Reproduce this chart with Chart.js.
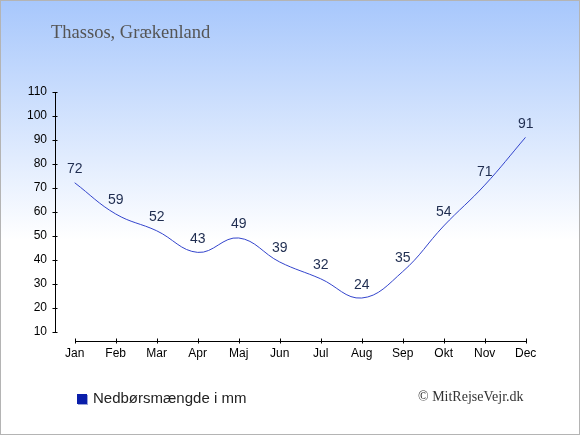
<!DOCTYPE html>
<html>
<head>
<meta charset="utf-8">
<script src="https://cdn.jsdelivr.net/npm/chart.js@4"></script>
<style>
html,body{margin:0;padding:0;}
body{width:580px;height:435px;overflow:hidden;}
#wrap{position:relative;width:580px;height:435px;background:linear-gradient(to bottom,#a7c7fc 0px,#ffffff 240px);}
#c{position:absolute;left:0;top:0;}
#frame{position:absolute;left:0;top:0;width:578px;height:433px;border:1px solid #b4b4b4;pointer-events:none;}
.t{position:absolute;white-space:nowrap;line-height:1;}
#title{left:51px;top:22.8px;font-family:"Liberation Serif",serif;font-size:18.5px;color:#555555;}
#leg{left:93px;top:390px;font-family:"Liberation Sans",Arial,sans-serif;font-size:15px;color:#222222;}
#sq{position:absolute;left:77px;top:394px;width:10px;height:10px;background:#0a1eaa;box-shadow:1px 1px 0 #9aa4d8;}
#copy{left:418px;top:390px;font-family:"Liberation Serif",serif;font-size:14px;color:#333333;}
</style>
</head>
<body>
<div id="wrap">
<canvas id="c" width="580" height="435"></canvas>
<div class="t" id="title">Thassos, Grækenland</div>
<div id="sq"></div>
<div class="t" id="leg">Nedbørsmængde i mm</div>
<div class="t" id="copy">© MitRejseVejr.dk</div>
<div id="frame"></div>
</div>
<script>
const months = ["Jan","Feb","Mar","Apr","Maj","Jun","Jul","Aug","Sep","Okt","Nov","Dec"];
const precipitation = [72,59,52,43,49,39,32,24,35,54,71,91];
const yTicks = [10,20,30,40,50,60,70,80,90,100,110];

const axisPlugin = {
  id:'axes',
  afterDraw(chart){
    const ctx = chart.ctx, xs = chart.scales.x, ys = chart.scales.y;
    const ax = Math.round(chart.chartArea.left)+0.5;
    const ay = Math.round(chart.chartArea.bottom)+0.5;
    ctx.save();
    ctx.strokeStyle = '#000';
    ctx.lineWidth = 1;
    ctx.beginPath();
    const yTop = Math.round(ys.getPixelForValue(yTicks[yTicks.length-1]))+0.5;
    const yBot = Math.round(ys.getPixelForValue(yTicks[0]))+0.5;
    ctx.moveTo(ax,yTop); ctx.lineTo(ax,yBot);
    yTicks.forEach(v=>{const p=Math.round(ys.getPixelForValue(v))+0.5; ctx.moveTo(ax-3,p); ctx.lineTo(ax+2,p);});
    const xL = Math.round(xs.getPixelForValue(0))+0.5;
    const xR = Math.round(xs.getPixelForValue(months.length-1))+0.5;
    ctx.moveTo(xL,ay); ctx.lineTo(xR,ay);
    months.forEach((m,i)=>{const p=Math.round(xs.getPixelForValue(i))+0.5; ctx.moveTo(p,ay-3); ctx.lineTo(p,ay+2);});
    ctx.stroke();
    ctx.restore();
  },
  afterDatasetsDraw(chart){
    const ctx = chart.ctx;
    const meta = chart.getDatasetMeta(0);
    ctx.save();
    ctx.font = '14px "Liberation Sans", Arial, sans-serif';
    ctx.fillStyle = '#1f2d50';
    ctx.textAlign = 'center';
    ctx.textBaseline = 'alphabetic';
    meta.data.forEach((pt,i)=>{ ctx.fillText(String(precipitation[i]), pt.x, pt.y-9.5); });
    ctx.restore();
  }
};

new Chart(document.getElementById('c'), {
  type:'line',
  data:{
    datasets:[{
      label:'Nedbørsmængde i mm',
      data: precipitation.map((v,i)=>({x:i,y:v})),
      borderColor:'#3344cc',
      borderWidth:1,
      pointRadius:0,
      tension:0.4,
      fill:false
    }]
  },
  options:{
    responsive:false,
    animation:false,
    devicePixelRatio:1,
    layout:{padding:{top:91.5,right:54.3,left:0,bottom:0}},
    plugins:{legend:{display:false},tooltip:{enabled:false},title:{display:false}},
    scales:{
      x:{
        type:'linear', min:-0.48, max:11, offset:false,
        grid:{display:false,drawTicks:false,tickLength:0}, border:{display:false},
        afterBuildTicks(s){ s.ticks = months.map((m,i)=>({value:i})); },
        afterFit(s){ s.height = 94; },
        ticks:{autoSkip:false,maxRotation:0,padding:5,color:'#000',
          font:{family:'"Liberation Sans", Arial, sans-serif',size:12},
          callback:(v)=>months[v]}
      },
      y:{
        type:'linear', min:6.1, max:110,
        grid:{display:false,drawTicks:false,tickLength:0}, border:{display:false},
        afterBuildTicks(s){ s.ticks = yTicks.map(v=>({value:v})); },
        afterFit(s){ s.width = 55; },
        ticks:{padding:8,color:'#000',
          font:{family:'"Liberation Sans", Arial, sans-serif',size:12}}
      }
    }
  },
  plugins:[axisPlugin]
});
</script>
</body>
</html>
